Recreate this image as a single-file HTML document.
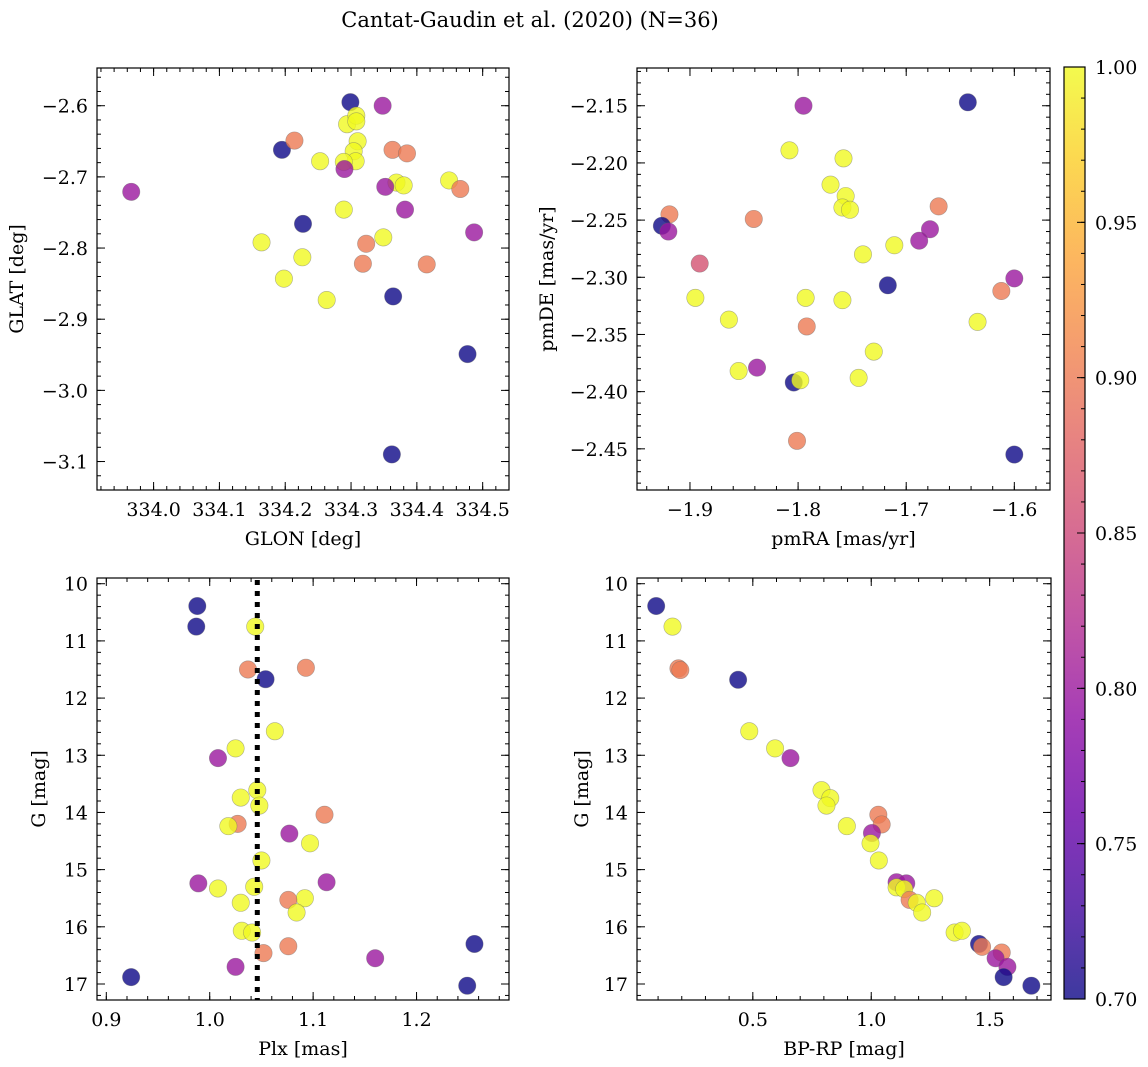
<!DOCTYPE html>
<html><head><meta charset="utf-8"><style>
html,body{margin:0;padding:0;background:#fff;}
svg{display:block;font-family:"DejaVu Serif","Liberation Serif",serif;}
</style></head><body>
<svg id="fig" width="1148" height="1067" viewBox="0 0 1148 1067" xmlns="http://www.w3.org/2000/svg">
<defs>
<linearGradient id="plasma" x1="0" y1="1" x2="0" y2="0">
<stop offset="0" stop-color="#0d0887"/><stop offset="0.1" stop-color="#41049d"/><stop offset="0.2" stop-color="#6a00a8"/><stop offset="0.3" stop-color="#8f0da4"/><stop offset="0.4" stop-color="#b12a90"/><stop offset="0.5" stop-color="#cc4778"/><stop offset="0.6" stop-color="#e16462"/><stop offset="0.7" stop-color="#f2844b"/><stop offset="0.8" stop-color="#fca636"/><stop offset="0.9" stop-color="#fcce25"/><stop offset="1" stop-color="#f0f921"/>
</linearGradient>
</defs>
<text x="530" y="27" font-size="21" text-anchor="middle">Cantat-Gaudin et al. (2020) (N=36)</text>
</svg>
<script>
// ---- data: sky position panel ----
const glon = [333.966,334.195,334.214,334.299,334.348,334.294,334.308,334.308,334.310,334.304,334.307,334.289,334.253,334.290,334.363,334.385,334.369,334.380,334.352,334.449,334.466,334.289,334.382,334.487,334.227,334.164,334.226,334.349,334.323,334.318,334.415,334.198,334.263,334.364,334.477,334.362];
const glat = [-2.721,-2.662,-2.649,-2.595,-2.600,-2.626,-2.614,-2.622,-2.650,-2.664,-2.678,-2.679,-2.678,-2.689,-2.662,-2.667,-2.708,-2.712,-2.714,-2.705,-2.717,-2.746,-2.746,-2.778,-2.766,-2.792,-2.813,-2.785,-2.794,-2.822,-2.823,-2.843,-2.873,-2.868,-2.949,-3.090];
const probSky = [0.8,0.7,0.9,0.7,0.8,1,1,1,1,1,1,1,1,0.8,0.9,0.9,1,1,0.8,1,0.9,1,0.8,0.8,0.7,1,1,1,0.9,0.9,0.9,1,1,0.7,0.7,0.7];
// ---- data: proper motion panel ----
const pmra = [-1.795,-1.643,-1.808,-1.758,-1.770,-1.756,-1.759,-1.752,-1.670,-1.919,-1.841,-1.926,-1.920,-1.678,-1.688,-1.711,-1.740,-1.891,-1.600,-1.717,-1.612,-1.895,-1.793,-1.759,-1.864,-1.792,-1.634,-1.730,-1.855,-1.838,-1.804,-1.798,-1.744,-1.801,-1.600];
const pmde = [-2.150,-2.147,-2.189,-2.196,-2.219,-2.229,-2.239,-2.241,-2.238,-2.245,-2.249,-2.255,-2.260,-2.258,-2.268,-2.272,-2.280,-2.288,-2.301,-2.307,-2.312,-2.318,-2.318,-2.320,-2.337,-2.343,-2.339,-2.365,-2.382,-2.379,-2.392,-2.390,-2.388,-2.443,-2.455];
const probPm = [0.8,0.7,1,1,1,1,1,1,0.9,0.9,0.9,0.7,0.8,0.8,0.8,1,1,0.86,0.8,0.7,0.9,1,1,1,1,0.9,1,1,1,0.8,0.7,1,1,0.9,0.7];
// ---- data: parallax panel ----
const plx = [0.988,0.987,1.044,1.037,1.093,1.054,1.063,1.025,1.008,1.046,1.030,1.048,1.111,1.027,1.018,1.077,1.097,1.050,0.989,1.113,1.008,1.043,1.092,1.076,1.030,1.084,1.031,1.041,1.076,1.052,1.256,1.160,1.025,0.924,1.249];
const gPlx = [10.39,10.75,10.75,11.50,11.47,11.67,12.58,12.88,13.05,13.61,13.74,13.88,14.04,14.20,14.24,14.37,14.54,14.84,15.24,15.22,15.33,15.30,15.50,15.53,15.58,15.75,16.07,16.10,16.34,16.46,16.30,16.55,16.70,16.88,17.03];
const probPlx = [0.7,0.7,1,0.9,0.9,0.7,1,1,0.8,1,1,1,0.9,0.9,1,0.8,1,1,0.8,0.8,1,1,1,0.9,1,1,1,1,0.9,0.9,0.7,0.8,0.8,0.7,0.7];
const meanPlx = [1.046];
// ---- data: CMD panel ----
const bprp = [0.092,0.161,0.186,0.194,0.438,0.485,0.594,0.659,0.790,0.827,0.811,1.030,1.044,0.897,1.003,0.997,1.032,1.107,1.148,1.107,1.139,1.266,1.162,1.192,1.215,1.352,1.383,1.455,1.468,1.551,1.525,1.575,1.559,1.676];
const gCmd = [10.39,10.75,11.48,11.51,11.68,12.58,12.88,13.05,13.61,13.75,13.88,14.04,14.21,14.24,14.36,14.54,14.84,15.22,15.24,15.31,15.34,15.50,15.53,15.58,15.75,16.10,16.07,16.30,16.35,16.45,16.55,16.70,16.88,17.03];
const probCmd = [0.7,1,0.9,0.9,0.7,1,1,0.8,1,1,1,0.9,0.9,1,0.8,1,1,0.8,0.8,1,1,1,0.9,1,1,1,1,0.7,0.9,0.9,0.8,0.8,0.7,0.7];
// ---- tick labels ----
const ticksGlon = [334.0,334.1,334.2,334.3,334.4,334.5];
const ticksGlat = [-2.6,-2.7,-2.8,-2.9,-3.0,-3.1];
const ticksPmra = [-1.9,-1.8,-1.7,-1.6];
const ticksPmde = [-2.15,-2.20,-2.25,-2.30,-2.35,-2.40,-2.45];
const ticksPlx = [0.9,1.0,1.1,1.2];
const ticksG = [10,11,12,13,14,15,16,17];
const ticksBprp = [0.5,1.0,1.5];
const ticksCbar = [0.70,0.75,0.80,0.85,0.90,0.95,1.00];

const NS='http://www.w3.org/2000/svg';
const svg=document.getElementById('fig');
const stops=[[0,13,8,135],[0.1,65,4,157],[0.2,106,0,168],[0.3,143,13,164],[0.4,177,42,144],[0.5,204,71,120],[0.6,225,100,98],[0.7,242,132,75],[0.8,252,166,54],[0.9,252,206,37],[1,240,249,33]];
function plasma(v){
  let t=Math.max(0,Math.min(1,(v-0.7)/0.3));
  for(let i=0;i<stops.length-1;i++){const a=stops[i],b=stops[i+1];
    if(t<=b[0]){const f=(t-a[0])/(b[0]-a[0]);return 'rgb('+[1,2,3].map(k=>Math.round(a[k]+(b[k]-a[k])*f)).join(',')+')';}}
  return 'rgb(240,249,33)';
}
function mk(tag,attrs,parent){const e=document.createElementNS(NS,tag);for(const k in attrs)e.setAttribute(k,attrs[k]);(parent||svg).appendChild(e);return e;}
function fmtMinus(s){return s.replace('-','\u2212');}
const FS=19;

function panel(cfg){
  const g=mk('g',{});
  
  
  const sx=v=>cfg.px0+(v-cfg.x0)/(cfg.x1-cfg.x0)*(cfg.px1-cfg.px0);
  const sy=v=>cfg.py0+(v-cfg.y0)/(cfg.y1-cfg.y0)*(cfg.py1-cfg.py0);
  const tk=mk('g',{stroke:'#000','stroke-width':1},g);
  
  
  const lo=Math.min(cfg.x0,cfg.x1),hi=Math.max(cfg.x0,cfg.x1);
  for(let v=Math.ceil(lo/cfg.xm-1e-6)*cfg.xm;v<=hi+1e-9;v+=cfg.xm){const x=sx(v);
    mk('line',{x1:x,x2:x,y1:cfg.py1,y2:cfg.py1-4},tk);mk('line',{x1:x,x2:x,y1:cfg.py0,y2:cfg.py0+4},tk);}
  const ylo=Math.min(cfg.y0,cfg.y1),yhi=Math.max(cfg.y0,cfg.y1);
  for(let v=Math.ceil(ylo/cfg.ym-1e-6)*cfg.ym;v<=yhi+1e-9;v+=cfg.ym){const y=sy(v);
    mk('line',{x1:cfg.px0,x2:cfg.px0+4,y1:y,y2:y},tk);mk('line',{x1:cfg.px1,x2:cfg.px1-4,y1:y,y2:y},tk);}
  cfg.xt.forEach(v=>{const x=sx(v);
    mk('line',{x1:x,x2:x,y1:cfg.py1,y2:cfg.py1-8},tk);mk('line',{x1:x,x2:x,y1:cfg.py0,y2:cfg.py0+8},tk);
    const t=mk('text',{x:x,y:cfg.py1+26,'font-size':FS,'text-anchor':'middle'},g);t.textContent=fmtMinus(v.toFixed(cfg.xd));
    });
  cfg.yt.forEach(v=>{const y=sy(v);
    mk('line',{x1:cfg.px0,x2:cfg.px0+8,y1:y,y2:y},tk);mk('line',{x1:cfg.px1,x2:cfg.px1-8,y1:y,y2:y},tk);
    const t=mk('text',{x:cfg.px0-9,y:y+7,'font-size':FS,'text-anchor':'end'},g);t.textContent=fmtMinus(v.toFixed(cfg.yd));
    });
  if(cfg.vline){cfg.vline.forEach(v=>{const l=mk('line',{x1:sx(v),x2:sx(v),y1:cfg.py0+2,y2:cfg.py1,stroke:'#000','stroke-width':5,'stroke-dasharray':'5,6'},g);
    });}
  const pts=mk('g',{},g);
  
  
  cfg.xs.forEach((v,i)=>{const c=mk('circle',{cx:sx(v),cy:sy(cfg.ys[i]),r:8.7,fill:plasma(cfg.cs[i]),'fill-opacity':0.8,stroke:'#666','stroke-opacity':0.5,'stroke-width':0.6},pts);
    });
  const fr=mk('rect',{x:cfg.px0,y:cfg.py0,width:cfg.px1-cfg.px0,height:cfg.py1-cfg.py0,fill:'none',stroke:'#000','stroke-width':1.2},g);
  
  const xl=mk('text',{x:(cfg.px0+cfg.px1)/2,y:cfg.py1+55,'font-size':FS,'text-anchor':'middle'},g);xl.textContent=cfg.xl;
  
  const yl=mk('text',{x:0,y:0,'font-size':FS,'text-anchor':'middle',transform:'translate('+cfg.ylx+','+(cfg.py0+cfg.py1)/2+') rotate(-90)'},g);yl.textContent=cfg.yl;
  
}

panel({name:'sky-position-panel',px0:97,px1:509,py0:68,py1:490,x0:333.914,x1:334.540,y0:-2.547,y1:-3.140,xm:0.02,ym:0.02,xt:ticksGlon,yt:ticksGlat,xd:1,yd:1,xs:glon,ys:glat,cs:probSky,xl:'GLON [deg]',yl:'GLAT [deg]',ylx:23});
panel({name:'proper-motion-panel',px0:637,px1:1050,py0:68,py1:490,x0:-1.949,x1:-1.567,y0:-2.117,y1:-2.486,xm:0.02,ym:0.01,xt:ticksPmra,yt:ticksPmde,xd:1,yd:2,xs:pmra,ys:pmde,cs:probPm,xl:'pmRA [mas/yr]',yl:'pmDE [mas/yr]',ylx:553});
panel({name:'parallax-panel',px0:97,px1:509,py0:578,py1:1000,x0:0.891,x1:1.2894,y0:9.90,y1:17.28,xm:0.02,ym:0.2,xt:ticksPlx,yt:ticksG,xd:1,yd:0,xs:plx,ys:gPlx,cs:probPlx,xl:'Plx [mas]',yl:'G [mag]',ylx:45});
panel({name:'cmd-panel',px0:637,px1:1051,py0:578,py1:1000,x0:0.011,x1:1.759,y0:9.90,y1:17.28,xm:0.1,ym:0.2,xt:ticksBprp,yt:ticksG,xd:1,yd:0,xs:bprp,ys:gCmd,cs:probCmd,xl:'BP-RP [mag]',yl:'G [mag]',ylx:588});
(function(){})();
// mean parallax line drawn in parallax panel
(function(){
  const sx=v=>97+(v-0.891)/(1.2894-0.891)*(509-97);
  meanPlx.forEach(v=>{const l=mk('line',{x1:sx(v),x2:sx(v),y1:580,y2:1000,stroke:'#000','stroke-width':5,'stroke-dasharray':'5,6'});
    
    });
})();

// colorbar
(function(){
  const g=mk('g',{});
  
  
  const x0=1064,x1=1085,y0=67,y1=999;
  const sy=v=>y1-(v-0.7)/0.3*(y1-y0);
  mk('rect',{x:x0,y:y0,width:x1-x0,height:y1-y0,fill:'url(#plasma)','fill-opacity':0.8},g);
  for(let i=0;i<=30;i++){const v=0.7+i*0.01,y=sy(v);mk('line',{x1:x1,x2:x1-4,y1:y,y2:y,stroke:'#000','stroke-width':1},g);}
  ticksCbar.forEach(v=>{const y=sy(v);mk('line',{x1:x1,x2:x1-8,y1:y,y2:y,stroke:'#000','stroke-width':1},g);
    const t=mk('text',{x:1095,y:y+7,'font-size':FS},g);t.textContent=v.toFixed(2);
    });
  mk('rect',{x:x0,y:y0,width:x1-x0,height:y1-y0,fill:'none',stroke:'#000','stroke-width':1.2},g);
})();
</script>
</body></html>
